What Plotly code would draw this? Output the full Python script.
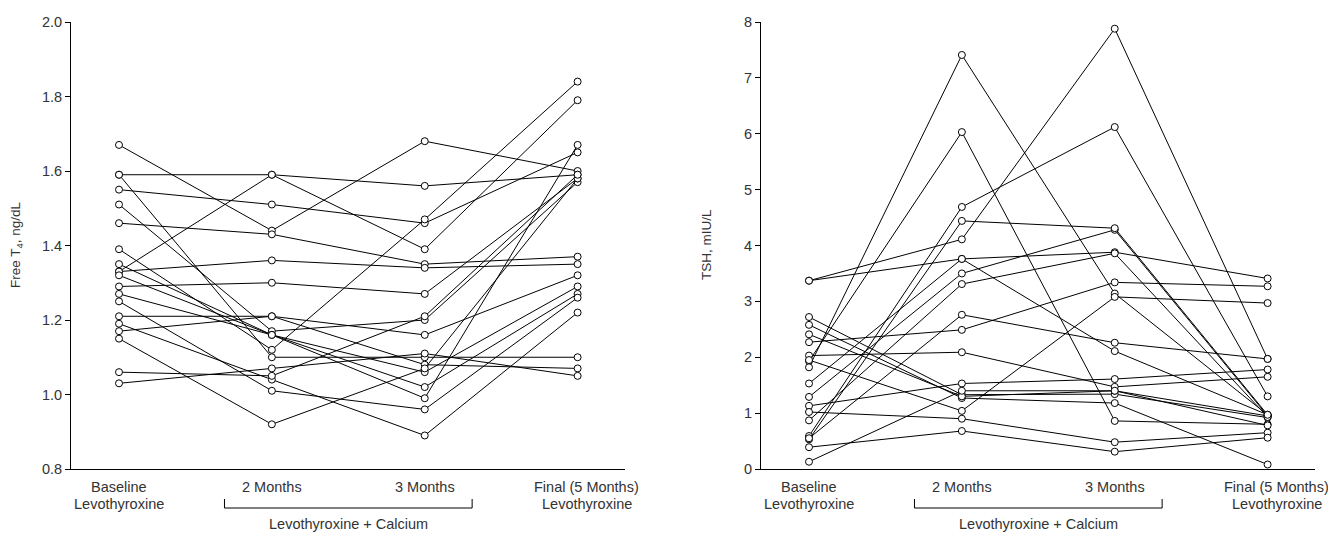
import plotly.graph_objects as go

timepoints = [0, 1, 2, 3]
category_labels = ["Baseline<br>Levothyroxine", "2 Months", "3 Months", "Final (5 Months)<br>Levothyroxine"]
bracket_label = "Levothyroxine + Calcium"

# Free T4, ng/dL : per subject [baseline, 2 months, 3 months, final]
ft4_baseline = [1.67, 1.59, 1.59, 1.55, 1.51, 1.46, 1.39, 1.35, 1.33, 1.33, 1.32, 1.29, 1.27, 1.25, 1.21, 1.19, 1.17, 1.15, 1.06, 1.03]
ft4_2mo      = [1.44, 1.59, 1.10, 1.51, 1.17, 1.43, 1.12, 1.16, 1.59, 1.36, 1.16, 1.30, 1.16, 1.01, 1.21, 1.04, 1.21, 0.92, 1.05, 1.07]
ft4_3mo      = [1.68, 1.56, 1.10, 1.46, 1.20, 1.35, 1.47, 1.06, 1.39, 1.34, 1.02, 1.27, 0.99, 0.96, 1.16, 0.89, 1.08, 1.07, 1.21, 1.11]
ft4_final    = [1.60, 1.59, 1.10, 1.65, 1.57, 1.37, 1.84, 1.29, 1.79, 1.35, 1.27, 1.58, 1.67, 1.26, 1.32, 1.22, 1.07, 1.58, 1.59, 1.05]

# TSH, mIU/L : per subject [baseline, 2 months, 3 months, final]
tsh_baseline = [3.37, 3.37, 2.72, 2.58, 2.41, 2.27, 2.03, 1.93, 1.82, 1.95, 1.53, 1.29, 1.13, 1.02, 0.87, 0.59, 0.53, 0.55, 0.39, 0.13]
tsh_2mo      = [4.11, 3.76, 1.33, 1.27, 1.30, 2.49, 2.09, 6.03, 7.41, 1.04, 3.76, 3.50, 1.53, 0.90, 3.31, 4.69, 4.44, 2.76, 0.68, 1.40]
tsh_3mo      = [7.88, 3.88, 1.34, 1.18, 1.40, 3.34, 1.47, 0.86, 3.14, 3.08, 2.11, 4.28, 1.61, 0.48, 3.86, 6.12, 4.31, 2.26, 0.31, 1.40]
tsh_final    = [1.97, 3.41, 0.92, 0.08, 0.95, 3.27, 1.65, 0.80, 0.97, 2.97, 0.97, 0.95, 1.78, 0.65, 0.93, 1.30, 0.97, 1.97, 0.56, 0.78]

W, H = 1328, 533
FONT = "Liberation Sans, Arial, sans-serif"
TXT = "#333333"

fig = go.Figure()

def add_panel(b, m2, m3, f, xa, ya):
    for i in range(len(b)):
        fig.add_trace(go.Scatter(
            x=timepoints, y=[b[i], m2[i], m3[i], f[i]],
            mode="lines+markers", xaxis=xa, yaxis=ya,
            line=dict(color="black", width=1),
            marker=dict(symbol="circle", size=7, color="white",
                        line=dict(color="black", width=1)),
            showlegend=False, hoverinfo="skip"))

add_panel(ft4_baseline, ft4_2mo, ft4_3mo, ft4_final, "x", "y")
add_panel(tsh_baseline, tsh_2mo, tsh_3mo, tsh_final, "x2", "y2")

ydom = [(H - 469) / H, (H - 22) / H]
xdom1 = [71 / W, 625 / W]
xdom2 = [761 / W, 1315 / W]
xr = [-0.314, 3.31]

common_x = dict(range=xr, showgrid=False, zeroline=False, showticklabels=False, automargin=False,
                ticks="", showline=True, linecolor="black", linewidth=1)
common_y = dict(showgrid=False, zeroline=False, showline=True, linecolor="black", automargin=False,
                linewidth=1, ticks="outside", ticklen=5, tickwidth=1, tickcolor="black",
                tickfont=dict(family=FONT, size=14.5, color=TXT))

fig.update_layout(
    width=W, height=H, autosize=False,
    margin=dict(l=0, r=0, t=0, b=0, pad=0, autoexpand=False),
    paper_bgcolor="white", plot_bgcolor="white",
    xaxis=dict(domain=xdom1, anchor="y", **common_x),
    yaxis=dict(domain=ydom, anchor="x", range=[0.8, 2.0], tickvals=[0.8, 1.0, 1.2, 1.4, 1.6, 1.8, 2.0],
               tickformat=".1f", **common_y),
    xaxis2=dict(domain=xdom2, anchor="y2", **common_x),
    yaxis2=dict(domain=ydom, anchor="x2", range=[0, 8], tickvals=list(range(0, 9)), **common_y),
)

def py(pix):
    return 1 - pix / H

LAB = dict(family=FONT, size=14.5, color=TXT)
annotations = []
for xa, ytitle, tx in [("x", "Free T<sub>4</sub>, ng/dL", 17), ("x2", "TSH, mIU/L", 707)]:
    for k, lab in enumerate(category_labels):
        for j, line in enumerate(lab.split("<br>")):
            annotations.append(dict(x=timepoints[k], y=py(487 + 17 * j), xref=xa, yref="paper",
                                    text=line, showarrow=False, xanchor="center", yanchor="middle",
                                    xshift=9 if k == 3 else 0, font=LAB))
    annotations.append(dict(x=1.5, y=py(524), xref=xa, yref="paper", text=bracket_label,
                            showarrow=False, xanchor="center", yanchor="middle", font=LAB))
    annotations.append(dict(x=tx / W, y=py(245), xref="paper", yref="paper", text=ytitle,
                            showarrow=False, textangle=-90, xanchor="center", yanchor="middle",
                            font=dict(family=FONT, size=13.5, color=TXT)))

shapes = []
for xa in ["x", "x2"]:
    shapes.append(dict(type="path", xref=xa, yref="paper",
                       path=f"M 0.69,{py(499)} L 0.69,{py(508)} L 2.31,{py(508)} L 2.31,{py(499)}",
                       line=dict(color="black", width=1)))

fig.update_layout(annotations=annotations, shapes=shapes)
fig.write_html("out.html", config={"displayModeBar": False},
               post_script="document.body.style.margin='0';document.body.style.overflow='hidden';")
